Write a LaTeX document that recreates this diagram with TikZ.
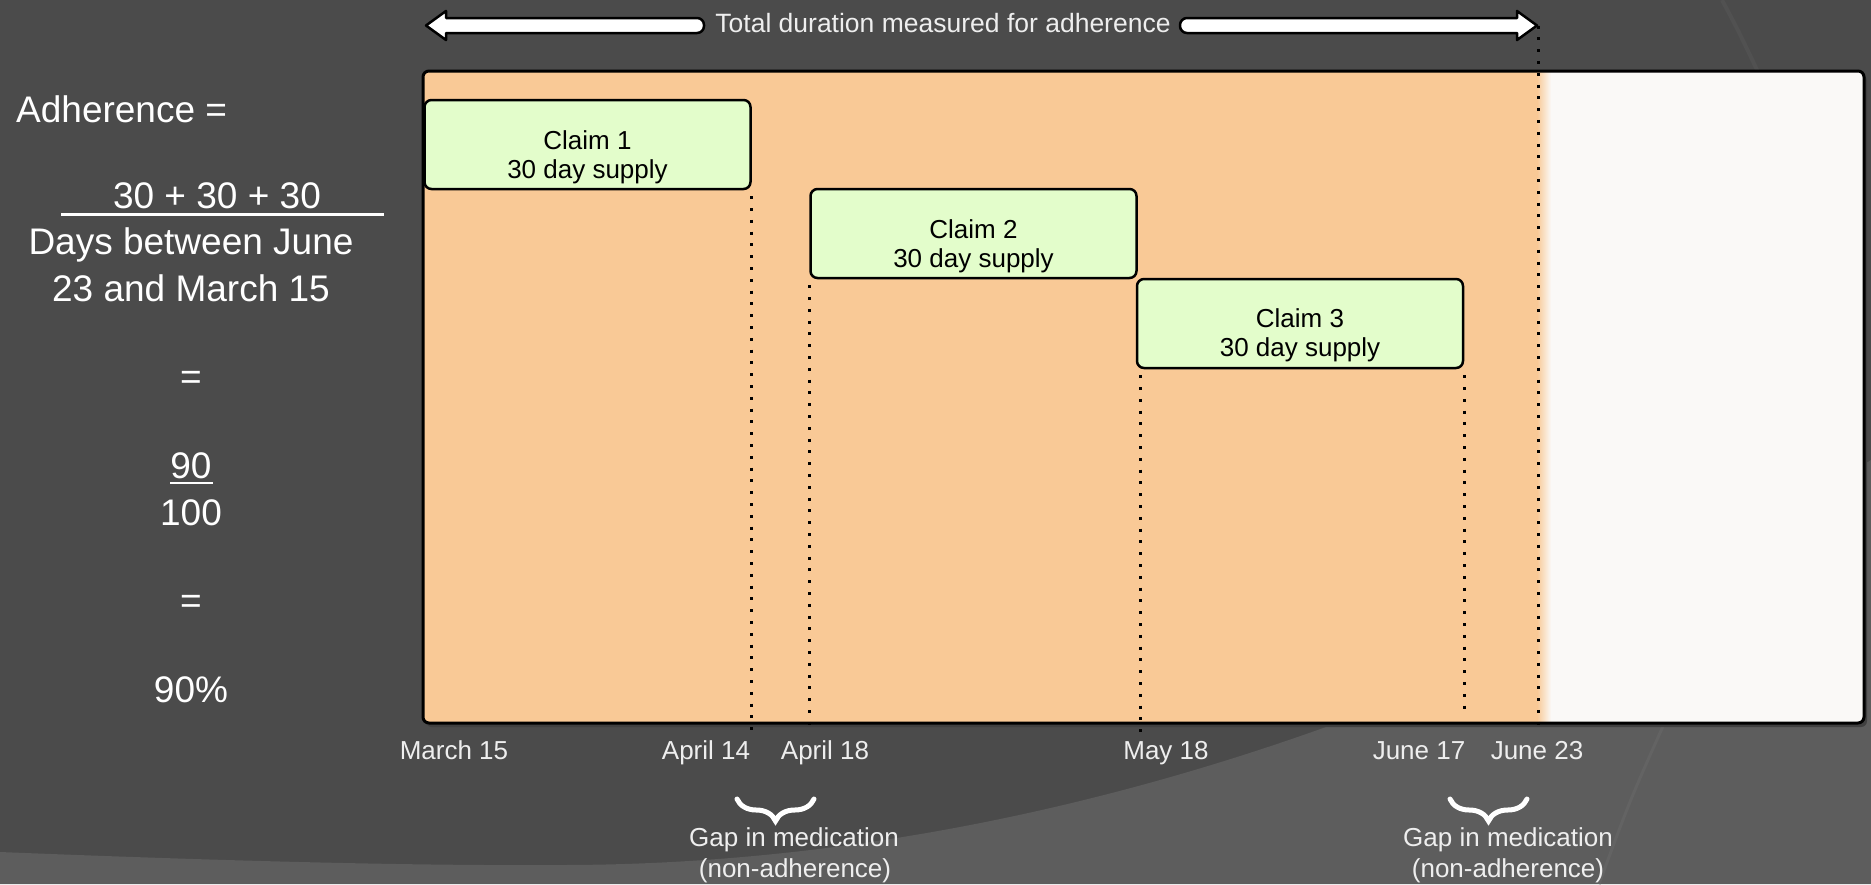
\documentclass[tikz,border=0pt]{standalone}
\usepackage{fontspec}
\setmainfont{Liberation Sans}
\usetikzlibrary{calc,decorations.pathreplacing}
\definecolor{bgdark}{HTML}{4B4B4B}
\definecolor{bglight}{HTML}{5D5D5D}
\definecolor{arcdark}{HTML}{515151}
\definecolor{arclight}{HTML}{636363}
\definecolor{panelorange}{HTML}{F9C996}
\definecolor{panelwhite}{HTML}{FAF9F7}
\definecolor{claimgreen}{HTML}{E3FDCB}
\definecolor{labelgrey}{HTML}{EEEEEE}
\begin{document}
\begin{tikzpicture}[x=1pt,y=-1pt,
  formula/.style={text=white,font=\fontsize{37}{44}\selectfont,inner sep=0pt,anchor=base},
  datelbl/.style={text=labelgrey,font=\fontsize{26}{31}\selectfont,inner sep=0pt,anchor=base},
  claimbox/.style={draw=black,line width=2.5pt,fill=claimgreen,rounded corners=7pt,inner sep=0pt,minimum width=326pt,minimum height=89pt},
  claimtxt/.style={text=black,font=\fontsize{26}{31}\selectfont,inner sep=0pt,anchor=base},
  guide/.style={draw=black,line width=3pt,dash pattern=on 3pt off 8.8pt},
  gapbrace/.style={draw=white,line width=5pt,line cap=round,decorate,decoration={brace,mirror,amplitude=22pt}},
  blockarrow/.style={fill=white,draw=black,line width=2.5pt,line join=round},
  panelbox/.style={draw=black,line width=3pt,rounded corners=6pt,inner sep=0pt,minimum width=1441pt,minimum height=652pt}
]
% background
\fill[bgdark] (0,0) rectangle (1871,884);
\useasboundingbox (0,0) rectangle (1871,884);
\fill[bglight] (0,884) -- (0,852) .. controls (200,860) and (400,866) .. (560,865)
  .. controls (1036,865) and (1490,700) .. (1871,460) -- (1871,884) -- cycle;
\draw[arcdark,line width=4pt] (1722,0) .. controls (1738,30) .. (1758,72);
\draw[arclight,line width=3pt] (1664,724) .. controls (1630,800) .. (1599,884);

% panel
\fill[black!75,rounded corners=6pt] (426,75) rectangle (1867,727);
\begin{scope}
  \clip[rounded corners=6pt] (423,71) rectangle (1864,723);
  \fill[panelwhite] (423,71) rectangle (1864,723);
  \fill[panelorange] (423,71) rectangle (1538,723);
  \shade[left color=panelorange,right color=panelwhite] (1537,71) rectangle (1551,723);
\end{scope}
\node[panelbox] (panel) at (1143.5,397) {};

% claims
\node[claimbox] (c1) at (587.5,144.5) {};
\node[claimtxt] (c1a) at ($(c1.north)+(0,50.5)$) {Claim 1};
\node[claimtxt] (c1b) at ($(c1.north)+(0,79.5)$) {30 day supply};
\node[claimbox] (c2) at (973.5,233.5) {};
\node[claimtxt] (c2a) at ($(c2.north)+(0,50.5)$) {Claim 2};
\node[claimtxt] (c2b) at ($(c2.north)+(0,79.5)$) {30 day supply};
\node[claimbox] (c3) at (1300,323.5) {};
\node[claimtxt] (c3a) at ($(c3.north)+(0,49.5)$) {Claim 3};
\node[claimtxt] (c3b) at ($(c3.north)+(0,78.5)$) {30 day supply};

% top arrow
\node[text=labelgrey,font=\fontsize{26.5}{31}\selectfont,inner sep=0pt,anchor=base] (dur) at (943,32) {Total duration measured for adherence};
\coordinate (L) at (426,25.5);
\coordinate (R) at (1537,25.5);
\path[blockarrow] (L) -- (446,11) -- (446,18) [rounded corners=7pt] -- (704,18) -- (704,33) [sharp corners] -- (446,33) -- (446,40) -- cycle;
\path[blockarrow] (R) -- (1517,40) -- (1517,33) [rounded corners=7pt] -- (1180,33) -- (1180,18) [sharp corners] -- (1517,18) -- (1517,11) -- cycle;

% guide lines
\draw[guide] ([yshift=-6pt]c1.south east) -- ([yshift=-8pt]c1.south east |- panel.south);
\draw[guide] ([yshift=-6pt]c2.south west) -- ([yshift=-8pt]c2.south west |- panel.south);
\draw[guide] ([xshift=5pt,yshift=-6pt]c3.south west) -- ([xshift=5pt,yshift=-8pt]c3.south west |- panel.south);
\draw[guide] ([yshift=-6pt]c3.south east) -- ([yshift=16pt]c3.south east |- panel.south);
\draw[guide] ([xshift=1pt]R) -- ([xshift=1pt,yshift=-8pt]R |- panel.south);

% dates
\node[datelbl] (d1) at (454,759) {March 15};
\node[datelbl] (d2) at (706,759) {April 14};
\node[datelbl] (d3) at (825,759) {April 18};
\node[datelbl] (d4) at (1166,759) {May 18};
\node[datelbl] (d5) at (1419,759) {June 17};
\node[datelbl] (d6) at (1537,759) {June 23};

% gaps
\coordinate (b1l) at (737,799);
\coordinate (b1r) at (814,799);
\draw[gapbrace] (b1l) -- (b1r);
\node[datelbl] (g1a) at (794,846) {Gap in medication};
\node[datelbl] (g1b) at (795,877) {(non-adherence)};
\coordinate (b2l) at (1450,799);
\coordinate (b2r) at (1527,799);
\draw[gapbrace] (b2l) -- (b2r);
\node[datelbl] (g2a) at (1508,846) {Gap in medication};
\node[datelbl] (g2b) at (1508,877) {(non-adherence)};

% formula
\node[formula,anchor=base west] (f1) at (16,122) {Adherence =};
\node[formula] (f2) at (217,208) {30 + 30 + 30};
\draw[white,line width=3pt] (61,214) -- (384,214);
\node[formula] (f3) at (191,254) {Days between June};
\node[formula] (f4) at (191,301) {23 and March 15};
\node[formula] (f5) at (191,389) {=};
\node[formula] (f6) at (191,478) {90};
\draw[white,line width=2.5pt] (170,483) -- (213,483);
\node[formula] (f7) at (191,525) {100};
\node[formula] (f8) at (191,613) {=};
\node[formula] (f9) at (191,702) {90\%};
\end{tikzpicture}
\end{document}
